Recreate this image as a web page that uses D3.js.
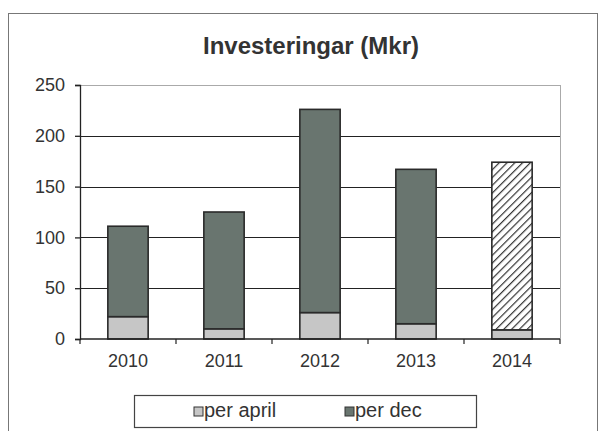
<!DOCTYPE html>
<html>
<head>
<meta charset="utf-8">
<script src="https://cdn.jsdelivr.net/npm/d3@7"></script>
<style>
  body { margin: 0; background: #fff; }
  svg { display: block; font-family: "Liberation Sans", Arial, sans-serif; }
</style>
</head>
<body>
<div id="viz"></div>
<script>
const width = 601, height = 431;

// data
const years = ["2010", "2011", "2012", "2013", "2014"];
const perApril = [22, 10, 26, 15, 9];
const perDec = [89, 115, 200, 152, 165];
const yTicks = [0, 50, 100, 150, 200, 250];
const seriesNames = ["per april", "per dec"];

const plot = { left: 80, right: 560, top: 85, bottom: 339 };

const svg = d3.select("#viz").append("svg")
  .attr("width", width)
  .attr("height", height);

// hatch for the 2014 bar
const defs = svg.append("defs");
defs.append("pattern")
  .attr("id", "hatch")
  .attr("patternUnits", "userSpaceOnUse")
  .attr("width", 5.5).attr("height", 5.5)
  .attr("patternTransform", "rotate(45)")
  .call(p => {
    p.append("rect").attr("width", 5.5).attr("height", 5.5).attr("fill", "#fff");
    p.append("line").attr("x1", 0).attr("y1", 0).attr("x2", 0).attr("y2", 5.5)
      .attr("stroke", "#333").attr("stroke-width", 2.4);
  });

// outer frame
svg.append("rect")
  .attr("x", 8.5).attr("y", 13.5)
  .attr("width", 589).attr("height", 430)
  .attr("fill", "none")
  .attr("stroke", "#777")
  .attr("stroke-width", 1);

// title
svg.append("text")
  .attr("x", 311).attr("y", 54)
  .attr("text-anchor", "middle")
  .attr("font-size", 24)
  .attr("font-weight", "bold")
  .attr("fill", "#333")
  .text("Investeringar (Mkr)");

const x = d3.scaleBand()
  .domain(years)
  .range([plot.left, plot.right])
  .paddingInner(0.58)
  .paddingOuter(0.29);

const y = d3.scaleLinear()
  .domain([0, 250])
  .range([plot.bottom, plot.top]);

// plot border (top/right light)
svg.append("line")
  .attr("x1", plot.left).attr("x2", plot.right)
  .attr("y1", y(250) + 0.5).attr("y2", y(250) + 0.5)
  .attr("stroke", "#aaa");
svg.append("line")
  .attr("x1", plot.right + 0.5).attr("x2", plot.right + 0.5)
  .attr("y1", plot.top).attr("y2", plot.bottom)
  .attr("stroke", "#aaa");

// gridlines
svg.append("g")
  .selectAll("line")
  .data(yTicks.filter(d => d > 0 && d < 250))
  .enter()
  .append("line")
  .attr("x1", plot.left).attr("x2", plot.right)
  .attr("y1", d => Math.round(y(d)) + 0.5)
  .attr("y2", d => Math.round(y(d)) + 0.5)
  .attr("stroke", "#222")
  .attr("stroke-width", 1.1);

// stacked bars
const rows = years.map((yr, i) => ({ year: yr, april: perApril[i], dec: perDec[i] }));
const stack = d3.stack().keys(["april", "dec"])(rows);

stack.forEach((layer, li) => {
  svg.append("g")
    .selectAll("rect")
    .data(layer)
    .enter()
    .append("rect")
    .attr("x", d => x(d.data.year))
    .attr("y", d => y(d[1]))
    .attr("width", x.bandwidth())
    .attr("height", d => y(d[0]) - y(d[1]))
    .attr("fill", d => {
      if (li === 0) return "#c6c6c6";
      return d.data.year === "2014" ? "url(#hatch)" : "#69756f";
    })
    .attr("stroke", "#2a2a2a")
    .attr("stroke-width", 1.6);
});

// y axis
const yAxis = svg.append("g")
  .attr("transform", `translate(${plot.left},0)`)
  .call(d3.axisLeft(y).tickValues(yTicks).tickSize(5).tickPadding(10));
yAxis.selectAll("text")
  .attr("font-size", 18)
  .attr("font-family", "Liberation Sans, Arial, sans-serif")
  .attr("fill", "#333");
yAxis.selectAll("line, path").attr("stroke", "#222").attr("stroke-width", 1.3);

// x axis with ticks between categories
const xAxis = svg.append("g")
  .attr("transform", `translate(0,${plot.bottom})`);
xAxis.append("line")
  .attr("x1", plot.left).attr("x2", plot.right)
  .attr("stroke", "#222").attr("stroke-width", 1.3);
const bounds = years.map(d => x(d) - x.step() * x.paddingInner() / 2)
  .concat([plot.right]);
xAxis.selectAll("line.tk")
  .data(bounds)
  .enter()
  .append("line")
  .attr("class", "tk")
  .attr("x1", d => d).attr("x2", d => d)
  .attr("y1", 0).attr("y2", 5)
  .attr("stroke", "#222").attr("stroke-width", 1.2);
xAxis.selectAll("text")
  .data(years)
  .enter()
  .append("text")
  .attr("x", d => x(d) + x.bandwidth() / 2)
  .attr("y", 28)
  .attr("text-anchor", "middle")
  .attr("font-size", 18)
  .attr("fill", "#333")
  .text(d => d);

// legend
const legend = svg.append("g");
legend.append("rect")
  .attr("x", 134.5).attr("y", 395.5)
  .attr("width", 342).attr("height", 32)
  .attr("fill", "#fff")
  .attr("stroke", "#444").attr("stroke-width", 1.2);

const legendItems = [
  { name: seriesNames[0], color: "#c6c6c6", x: 194 },
  { name: seriesNames[1], color: "#69756f", x: 345 }
];
legendItems.forEach(it => {
  legend.append("rect")
    .attr("x", it.x).attr("y", 407)
    .attr("width", 9).attr("height", 9)
    .attr("fill", it.color)
    .attr("stroke", "#333");
  legend.append("text")
    .attr("x", it.x + 10).attr("y", 417)
    .attr("font-size", 20)
    .attr("fill", "#333")
    .text(it.name);
});
</script>
</body>
</html>
